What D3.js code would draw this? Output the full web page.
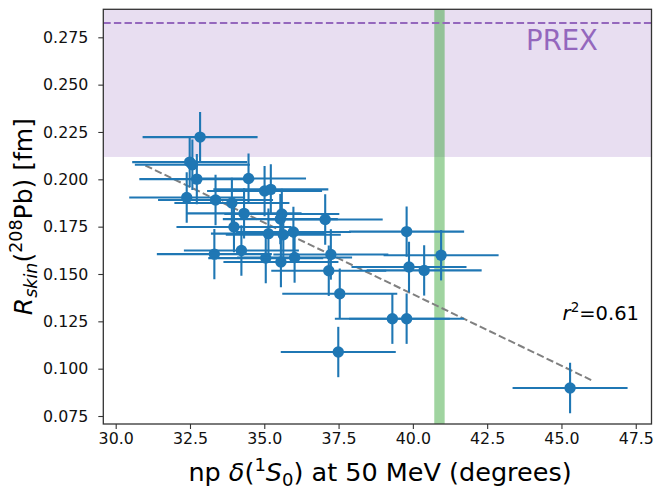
<!DOCTYPE html>
<html>
<head>
<meta charset="utf-8">
<script src="https://cdn.jsdelivr.net/npm/d3@7"></script>
<style>
  body { margin: 0; background: #fff; }
  svg { display: block; }
  text { font-family: "DejaVu Sans", sans-serif; }
</style>
</head>
<body>
<svg id="chart" width="656" height="489"></svg>
<script>
// np 1S0 phase shift at 50 MeV (degrees) for each interaction
const phaseShift = [32.84, 32.49, 32.58, 32.73, 34.47, 35.01, 35.22, 32.39, 33.36, 33.91,
                    34.32, 35.59, 35.54, 37.05, 33.98, 35.14, 35.64, 35.98, 33.32, 34.23,
                    35.05, 35.56, 36.02, 37.24, 37.17, 37.54, 39.79, 40.95, 39.87, 40.38,
                    39.31, 39.79, 37.49, 45.29];
// neutron skin thickness of 208Pb (fm)
const skinThickness = [0.2223, 0.2091, 0.2077, 0.2001, 0.2004, 0.1938, 0.1947, 0.1904, 0.1891, 0.1875,
                       0.1820, 0.1817, 0.1790, 0.1788, 0.1748, 0.1713, 0.1707, 0.1722, 0.1605, 0.1624,
                       0.1584, 0.1563, 0.1587, 0.1603, 0.1517, 0.1396, 0.1724, 0.1599, 0.1537, 0.1519,
                       0.1264, 0.1264, 0.1088, 0.0898];
const phaseErr = phaseShift.map(() => 1.935);
const skinErr = skinThickness.map(() => 0.0133);

const xTicks = [30, 32.5, 35, 37.5, 40, 42.5, 45, 47.5];
const yTicks = [0.075, 0.100, 0.125, 0.150, 0.175, 0.200, 0.225, 0.250, 0.275];

// PREX constraint on the skin and the empirical phase-shift band
const prexLow = 0.2118;
const prexCentral = 0.2826;
const phaseBand = [40.72, 41.07];

// linear fit line
const fitX = [31.0, 46.0];
const fitY = [0.2073, 0.0940];
const rSquared = "0.61";

const W = 656, H = 489;
const margin = { left: 103.3, right: W - 651.5, top: 9.3, bottom: H - 424 };

const x = d3.scaleLinear().domain([29.583, 48.03]).range([margin.left, W - margin.right]);
const y = d3.scaleLinear().domain([0.07078, 0.28979]).range([H - margin.bottom, margin.top]);

const svg = d3.select("#chart");
const blue = "#1f77b4";

svg.append("defs").append("clipPath").attr("id", "plot-clip")
  .append("rect")
  .attr("x", margin.left).attr("y", margin.top)
  .attr("width", W - margin.left - margin.right)
  .attr("height", H - margin.top - margin.bottom);

const plot = svg.append("g").attr("clip-path", "url(#plot-clip)");

// PREX band
plot.append("rect")
  .attr("x", margin.left)
  .attr("width", W - margin.left - margin.right)
  .attr("y", y(0.30))
  .attr("height", y(prexLow) - y(0.30))
  .attr("fill", "#9467bd")
  .attr("fill-opacity", 0.22);

// phase-shift band
plot.append("rect")
  .attr("x", x(phaseBand[0]))
  .attr("width", x(phaseBand[1]) - x(phaseBand[0]))
  .attr("y", margin.top)
  .attr("height", H - margin.top - margin.bottom)
  .attr("fill", "#2ca02c")
  .attr("fill-opacity", 0.45);

// PREX central value
plot.append("line")
  .attr("x1", margin.left).attr("x2", W - margin.right)
  .attr("y1", y(prexCentral)).attr("y2", y(prexCentral))
  .attr("stroke", "#9467bd").attr("stroke-width", 2)
  .attr("stroke-dasharray", "7.4,3.2");

svg.append("text")
  .attr("x", 562).attr("y", 49.5)
  .attr("text-anchor", "middle")
  .attr("font-size", 27.5)
  .attr("fill", "#9467bd")
  .text("PREX");

// fit line
plot.append("line")
  .attr("x1", x(fitX[0])).attr("y1", y(fitY[0]))
  .attr("x2", x(fitX[1])).attr("y2", y(fitY[1]))
  .attr("stroke", "#808080").attr("stroke-width", 2)
  .attr("stroke-dasharray", "7.4,3.2");

// points with error bars
const pts = phaseShift.map((v, i) => ({ x: v, y: skinThickness[i], ex: phaseErr[i], ey: skinErr[i] }));
const g = plot.selectAll("g.pt").data(pts).join("g").attr("class", "pt");
g.append("line")
  .attr("x1", d => x(d.x - d.ex)).attr("x2", d => x(d.x + d.ex))
  .attr("y1", d => y(d.y)).attr("y2", d => y(d.y))
  .attr("stroke", blue).attr("stroke-width", 2.1);
g.append("line")
  .attr("x1", d => x(d.x)).attr("x2", d => x(d.x))
  .attr("y1", d => y(d.y - d.ey)).attr("y2", d => y(d.y + d.ey))
  .attr("stroke", blue).attr("stroke-width", 2.1);
g.append("circle")
  .attr("cx", d => x(d.x)).attr("cy", d => y(d.y))
  .attr("r", 5.7)
  .attr("fill", blue);

// axes
const xAxis = svg.append("g")
  .attr("transform", `translate(0,${H - margin.bottom})`)
  .call(d3.axisBottom(x).tickValues(xTicks).tickFormat(d3.format(".1f")).tickSizeOuter(0).tickSize(5).tickPadding(4));
const yAxis = svg.append("g")
  .attr("transform", `translate(${margin.left},0)`)
  .call(d3.axisLeft(y).tickValues(yTicks).tickFormat(d3.format(".3f")).tickSizeOuter(0).tickSize(5).tickPadding(10));

[xAxis, yAxis].forEach(a => {
  a.select(".domain").remove();
  a.selectAll(".tick line").attr("stroke", "#333").attr("stroke-width", 1.1);
  a.selectAll(".tick text").attr("font-size", 15.8).attr("fill", "#111")
    .attr("font-family", "DejaVu Sans");
});

// frame
svg.append("rect")
  .attr("x", margin.left).attr("y", margin.top)
  .attr("width", W - margin.left - margin.right)
  .attr("height", H - margin.top - margin.bottom)
  .attr("fill", "none").attr("stroke", "#333").attr("stroke-width", 1.3);

// r^2 annotation
const r2 = svg.append("text")
  .attr("x", 639).attr("y", 320)
  .attr("text-anchor", "end")
  .attr("font-size", 19.5)
  .attr("fill", "#000");
r2.append("tspan").attr("font-style", "italic").text("r");
r2.append("tspan").attr("font-size", 13.5).attr("dy", -8).text("2");
r2.append("tspan").attr("dy", 8).text("=" + rSquared);

// x label
const xl = svg.append("text")
  .attr("x", 380).attr("y", 481)
  .attr("text-anchor", "middle")
  .attr("font-size", 25.5)
  .attr("fill", "#000");
xl.append("tspan").text("np ");
xl.append("tspan").attr("font-style", "italic").text("δ");
xl.append("tspan").text("(");
xl.append("tspan").attr("font-size", 18).attr("dy", -10).text("1");
xl.append("tspan").attr("font-style", "italic").attr("dy", 10).text("S");
xl.append("tspan").attr("font-size", 18).attr("dy", 5).text("0");
xl.append("tspan").attr("dy", -5).text(") at 50 MeV (degrees)");

// y label
const yl = svg.append("text")
  .attr("transform", `translate(32,${(margin.top + H - margin.bottom) / 2}) rotate(-90)`)
  .attr("text-anchor", "middle")
  .attr("font-size", 25)
  .attr("fill", "#000");
yl.append("tspan").attr("font-style", "italic").text("R");
yl.append("tspan").attr("font-style", "italic").attr("font-size", 17.5).attr("dy", 5).text("skin");
yl.append("tspan").attr("dy", -5).text("(");
yl.append("tspan").attr("font-size", 17.5).attr("dy", -10).text("208");
yl.append("tspan").attr("dy", 10).text("Pb) [fm]");
</script>
</body>
</html>
